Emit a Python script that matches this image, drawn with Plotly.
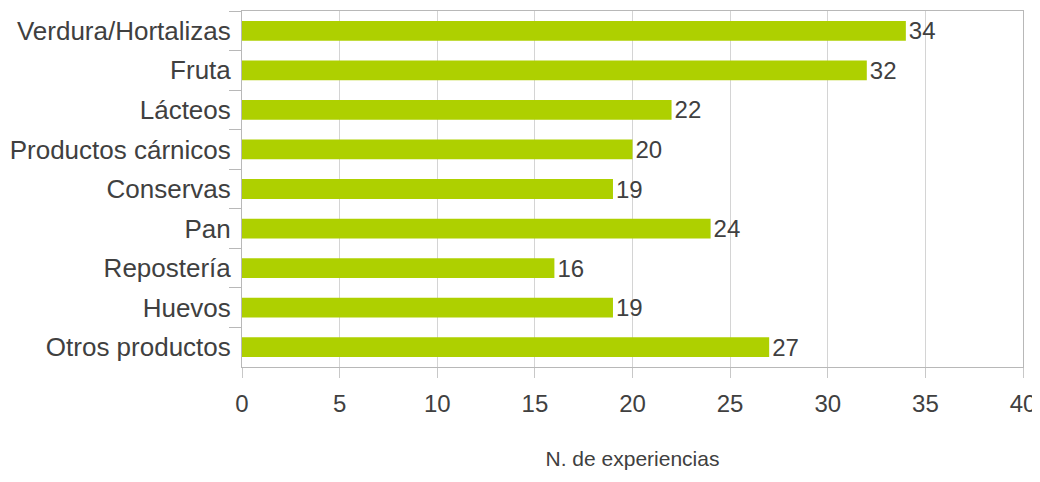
import plotly.graph_objects as go

categories = ["Verdura/Hortalizas", "Fruta", "Lácteos", "Productos cárnicos", "Conservas",
              "Pan", "Repostería", "Huevos", "Otros productos"]
values = [34, 32, 22, 20, 19, 24, 16, 19, 27]
x_ticks = [0, 5, 10, 15, 20, 25, 30, 35, 40]

text_color = "#404040"
font_family = "Liberation Sans, Arial, sans-serif"
fig = go.Figure(go.Bar(
    y=categories, x=values, orientation="h",
    marker=dict(color="#aed000", line=dict(width=0)),
    text=[str(v) for v in values], textposition="outside",
    textfont=dict(family=font_family, size=24, color=text_color),
    constraintext="none", cliponaxis=False,
))
fig.update_layout(
    width=1032, height=462,
    margin=dict(l=234, r=17, t=3, b=103, autoexpand=False),
    plot_bgcolor="white", paper_bgcolor="white",
    bargap=0.5, showlegend=False,
    font=dict(family=font_family, color=text_color),
)
fig.update_yaxes(
    autorange="reversed", tickson="boundaries", ticks="outside", ticklen=12,
    tickcolor="#b8b8b8", showline=True, linecolor="#b8b8b8", linewidth=1,
    mirror=True, showgrid=False, tickfont=dict(size=26, color=text_color),
    ticklabelstandoff=5, automargin=False,
)
fig.update_xaxes(
    range=[0, 40], tickvals=x_ticks, ticks="outside", ticklen=10,
    tickcolor="#c8c8c8", showline=True, linecolor="#b8b8b8", mirror=True,
    showgrid=True, gridcolor="#d4d4d4", gridwidth=1, zeroline=False,
    tickfont=dict(size=24, color=text_color), automargin=False,
    ticklabelstandoff=5, ticklabeloverflow="allow",
    title=dict(text="N. de experiencias", font=dict(size=21, color=text_color), standoff=43),
)
fig.write_html("out.html")
